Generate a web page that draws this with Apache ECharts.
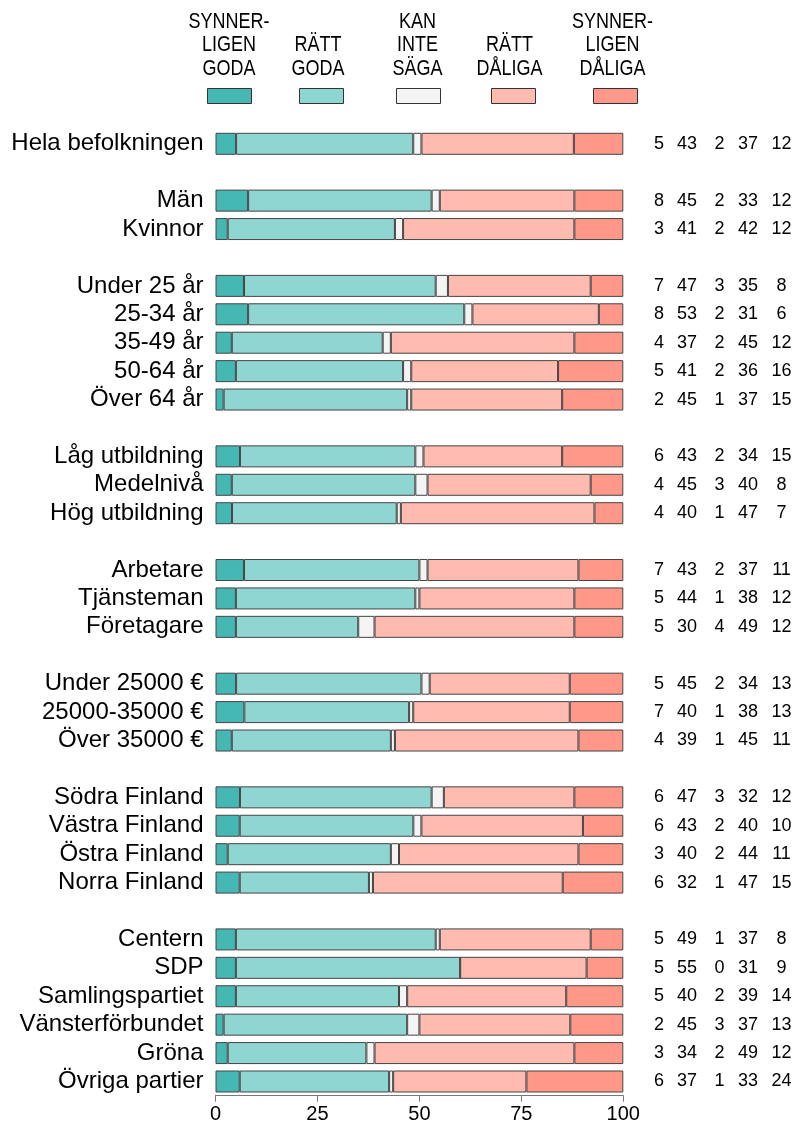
<!DOCTYPE html>
<html>
<head>
<meta charset="utf-8">
<script src="https://cdn.jsdelivr.net/npm/echarts@6/dist/echarts.min.js"></script>
<style>html,body{margin:0;padding:0;background:#fff}#c{width:795px;height:1128px}</style>
</head>
<body>
<div id="c"></div>
<script>
// '' marks an empty spacer row between groups
const categories = ['Hela befolkningen', '', 'Män', 'Kvinnor', '',
  'Under 25 år', '25-34 år', '35-49 år', '50-64 år', 'Över 64 år', '',
  'Låg utbildning', 'Medelnivå', 'Hög utbildning', '',
  'Arbetare', 'Tjänsteman', 'Företagare', '',
  'Under 25000 €', '25000-35000 €', 'Över 35000 €', '',
  'Södra Finland', 'Västra Finland', 'Östra Finland', 'Norra Finland', '',
  'Centern', 'SDP', 'Samlingspartiet', 'Vänsterförbundet', 'Gröna', 'Övriga partier'];
const synnerligenGoda   = [5, null, 8, 3, null, 7, 8, 4, 5, 2, null, 6, 4, 4, null, 7, 5, 5, null, 5, 7, 4, null, 6, 6, 3, 6, null, 5, 5, 5, 2, 3, 6];
const rattGoda          = [43, null, 45, 41, null, 47, 53, 37, 41, 45, null, 43, 45, 40, null, 43, 44, 30, null, 45, 40, 39, null, 47, 43, 40, 32, null, 49, 55, 40, 45, 34, 37];
const kanInteSaga       = [2, null, 2, 2, null, 3, 2, 2, 2, 1, null, 2, 3, 1, null, 2, 1, 4, null, 2, 1, 1, null, 3, 2, 2, 1, null, 1, 0, 2, 3, 2, 1];
const rattDaliga        = [37, null, 33, 42, null, 35, 31, 45, 36, 37, null, 34, 40, 47, null, 37, 38, 49, null, 34, 38, 45, null, 32, 40, 44, 47, null, 37, 31, 39, 37, 49, 33];
const synnerligenDaliga = [12, null, 12, 12, null, 8, 6, 12, 16, 15, null, 15, 8, 7, null, 11, 12, 12, null, 13, 13, 11, null, 12, 10, 11, 15, null, 8, 9, 14, 13, 12, 24];
const seriesNames = ['SYNNER-\nLIGEN\nGODA', 'RÄTT\nGODA', 'KAN\nINTE\nSÄGA', 'RÄTT\nDÅLIGA', 'SYNNER-\nLIGEN\nDÅLIGA'];
const seriesColors = ['#45B8B4', '#8FD6D2', '#F4F4F4', '#FFBBB0', '#FF9888'];
const xTicks = [0, 25, 50, 75, 100];

const seriesValues = [synnerligenGoda, rattGoda, kanInteSaga, rattDaliga, synnerligenDaliga];
const rowSums = categories.map((c, i) => c === '' ? null : seriesValues.reduce((s, arr) => s + arr[i], 0));
const FONT = '"Liberation Sans", Arial, sans-serif';
const legendLeft = [207, 299, 396, 491, 593];
const legendTextCenter = [229, 318, 417.5, 509.5, 612.5];
const LEG_SCALE_Y = 1.22;

const axisData = categories.map((c, i) => c === '' ? 'gap' + i : c);

const chart = echarts.init(document.getElementById('c'), null, {renderer: 'canvas'});
const numStyle = w => ({width: w, align: 'center', fontSize: 18, color: '#000', fontFamily: FONT});
const option = {
  backgroundColor: '#fff',
  animation: false,
  textStyle: {fontFamily: FONT},
  grid: {left: 215.5, right: 171.7, top: 129.6, bottom: 32.3, containLabel: false},
  xAxis: {
    type: 'value', min: xTicks[0], max: xTicks[xTicks.length - 1], interval: 25,
    splitLine: {show: false},
    axisLine: {show: true, lineStyle: {color: '#777', width: 1}},
    axisTick: {show: true, length: 6, lineStyle: {color: '#777'}},
    axisLabel: {fontSize: 20, color: '#000', margin: 9, fontFamily: FONT}
  },
  yAxis: [{
    type: 'category', inverse: true, data: axisData,
    axisLine: {show: false}, axisTick: {show: false}, splitLine: {show: false},
    axisLabel: {interval: 0, fontSize: 24, color: '#000', margin: 12, fontFamily: FONT,
      formatter: (v, i) => categories[i]}
  }, {
    type: 'category', inverse: true, data: axisData, position: 'right',
    axisLine: {show: false}, axisTick: {show: false}, splitLine: {show: false},
    axisLabel: {interval: 0, margin: 21.7, align: 'left',
      formatter: (v, i) => categories[i] === '' ? '' :
        '{a|' + synnerligenGoda[i] + '}{b|' + rattGoda[i] + '}{c|' + kanInteSaga[i] + '}{d|' + rattDaliga[i] + '}{e|' + synnerligenDaliga[i] + '}',
      rich: {a: numStyle(28), b: numStyle(28), c: numStyle(37), d: numStyle(20), e: numStyle(47)}
    }
  }],
  legend: seriesNames.map((n, k) => ({
    data: [n], left: legendLeft[k], top: 88, padding: 0,
    itemWidth: 44, itemHeight: 15, icon: 'rect',
    formatter: () => '',
    itemStyle: {borderColor: '#333', borderWidth: 1}
  })),
  graphic: seriesNames.map((n, k) => ({
    type: 'text', x: legendTextCenter[k], y: 80.2, scaleY: LEG_SCALE_Y,
    style: {text: n, align: 'center', verticalAlign: 'bottom',
      textAlign: 'center', textVerticalAlign: 'bottom',
      fontSize: 18, lineHeight: 23.3 / LEG_SCALE_Y, fontFamily: FONT, fill: '#000'}
  })),
  series: seriesNames.map((n, k) => ({
    name: n, type: 'bar', stack: 'total', barWidth: 22,
    itemStyle: {color: seriesColors[k], borderColor: '#444', borderWidth: 1},
    emphasis: {disabled: true},
    data: seriesValues[k].map((v, i) => v === null ? '-' : v / rowSums[i] * 100)
  }))
};
chart.setOption(option);
</script>
</body>
</html>
